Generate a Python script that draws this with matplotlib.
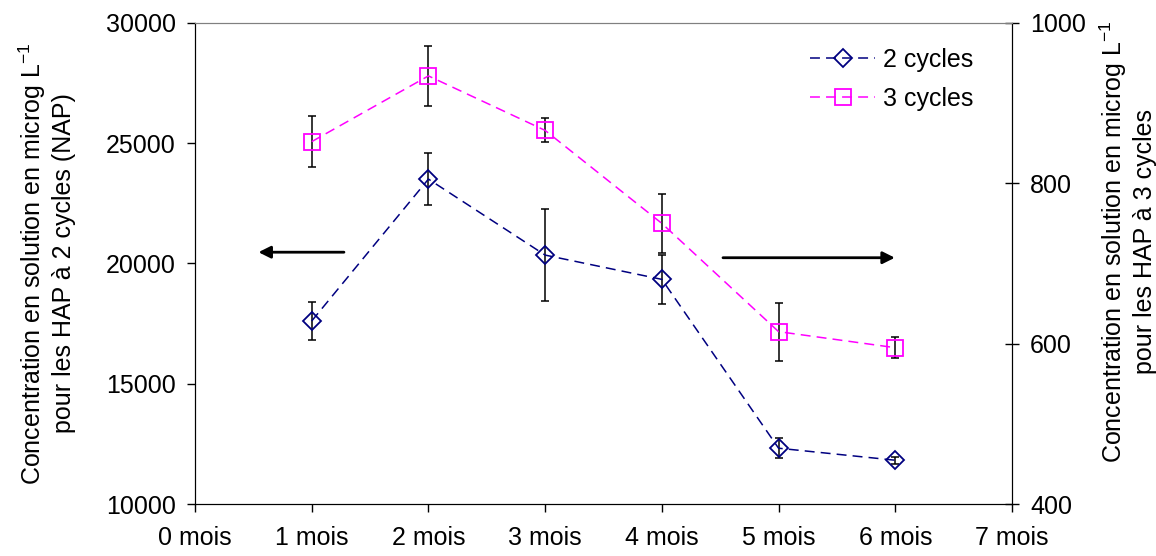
import numpy as np
import matplotlib
matplotlib.use("Agg")
import matplotlib.pyplot as plt

# === Données ===
mois = [1, 2, 3, 4, 5, 6]
x_labels = ["0 mois", "1 mois", "2 mois", "3 mois", "4 mois", "5 mois", "6 mois", "7 mois"]

cycles2 = [17610, 23510, 20350, 19340, 12320, 11820]
cycles2_err = [800, 1075, 1930, 1020, 425, 150]

cycles3 = [852, 934, 866, 750, 615, 595]
cycles3_err = [32, 37, 15, 37, 36, 13]

# === Style ===
plt.rcParams['font.family'] = ['Liberation Sans', 'DejaVu Sans']
plt.rcParams['mathtext.fontset'] = 'custom'
plt.rcParams['mathtext.rm'] = 'Liberation Sans'
plt.rcParams['font.size'] = 18

NAVY = '#000080'
MAGENTA = '#FF00FF'

fig = plt.figure(figsize=(11.56, 5.56), dpi=100)
ax = fig.add_axes([195 / 1156, 52 / 556, 817 / 1156, 481 / 556])
ax2 = ax.twinx()

# === Courbe 2 cycles (axe gauche) ===
ax.errorbar(mois, cycles2, yerr=cycles2_err, fmt='none', ecolor='black',
            elinewidth=1.1, capsize=3, capthick=1.1, zorder=2)
l1, = ax.plot(mois, cycles2, linestyle=(0, (6.5, 4)), color=NAVY, linewidth=1.1,
              marker='D', markersize=9, markerfacecolor='none',
              markeredgecolor=NAVY, markeredgewidth=1.3, zorder=3)

# === Courbe 3 cycles (axe droit) ===
ax2.errorbar(mois, cycles3, yerr=cycles3_err, fmt='none', ecolor='black',
             elinewidth=1.1, capsize=3, capthick=1.1, zorder=2)
l2, = ax2.plot(mois, cycles3, linestyle=(0, (6.5, 4)), color=MAGENTA, linewidth=1.1,
               marker='s', markersize=11, markerfacecolor='none',
               markeredgecolor=MAGENTA, markeredgewidth=1.3, zorder=3)

# === Axes ===
ax.set_xlim(0, 7)
ax.set_ylim(10000, 30000)
ax.set_yticks(np.arange(10000, 30001, 5000))
ax.set_xticks(range(8))
ax.set_xticklabels(x_labels)
ax2.set_ylim(400, 1000)
ax2.set_yticks([400, 600, 800, 1000])

ax.tick_params(axis='y', direction='out', length=6, width=1, pad=8)
ax.tick_params(axis='x', direction='out', length=6, width=1, pad=10)
ax2.tick_params(axis='y', direction='inout', length=10, width=1, pad=8)

for a in (ax, ax2):
    a.spines['top'].set_color('#808080')
    a.spines['left'].set_color('black')
    a.spines['right'].set_color('black')
    a.spines['bottom'].set_color('black')

# === Titres des axes ===
fig.text(46 / 1156, 0.526, "Concentration en solution en microg L$^{-1}$\npour les HAP à 2 cycles (NAP)",
         rotation=90, ha='center', va='center', multialignment='center', fontsize=18)
fig.text(1127 / 1156, 0.565, "Concentration en solution en microg L$^{-1}$\npour les HAP à 3 cycles",
         rotation=90, ha='center', va='center', multialignment='center', fontsize=18)

# === Flèches ===
ax.annotate('', xy=(0.52, 20470), xytext=(1.3, 20470),
            arrowprops=dict(arrowstyle='-|>', color='black', lw=2, mutation_scale=18))
ax.annotate('', xy=(6.02, 20240), xytext=(4.5, 20240),
            arrowprops=dict(arrowstyle='-|>', color='black', lw=2, mutation_scale=18))

# === Légende ===
ax.legend([l1, l2], ["2 cycles", "3 cycles"], loc='upper right', frameon=False,
          fontsize=18, handlelength=2.6, handletextpad=0.3, labelspacing=0.6,
          bbox_to_anchor=(0.98, 0.995))

fig.savefig("out.png", dpi=100)
